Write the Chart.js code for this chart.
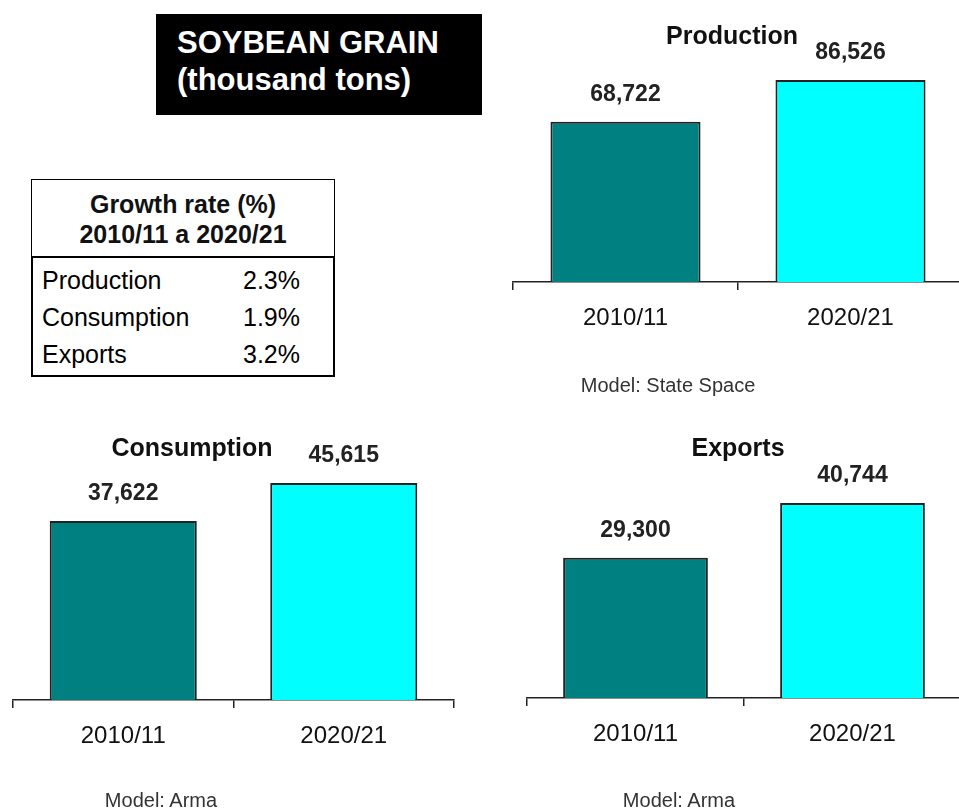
<!DOCTYPE html>
<html>
<head>
<meta charset="utf-8">
<script src="https://cdn.jsdelivr.net/npm/chart.js@4.4.1/dist/chart.umd.min.js"></script>
<style>
  html, body { margin: 0; padding: 0; background: #fff; overflow: hidden; }
  body { width: 959px; height: 809px; position: relative; font-family: "Liberation Sans", Arial, sans-serif; }
  canvas { position: absolute; }
  .abs { position: absolute; white-space: nowrap; }
  .center { transform: translate(-50%, -50%); }
  #titleBox {
    left: 156px; top: 14px; width: 305px; height: 91px; padding: 10px 0 0 21px;
    background: #000; color: #fff; font-weight: bold; font-size: 31px; line-height: 37px;
  }
  .chartTitle { font-weight: bold; font-size: 25px; color: #111; }
  .model { font-size: 20px; color: #333; }
  #growth { left: 31px; top: 179px; width: 304px; }
  #growth .head {
    border: 1px solid #000; border-bottom: 2px solid #000; height: 67px; padding-top: 9px;
    text-align: center; font-weight: bold; font-size: 25px; line-height: 30px; color: #111;
  }
  #growth .body {
    border: 2px solid #000; border-top: none; height: 113px; padding-top: 4px;
    font-size: 25px; line-height: 37px; color: #000;
  }
  #growth .row { position: relative; height: 37px; }
  #growth .row .lab { position: absolute; left: 9px; }
  #growth .row .val { position: absolute; right: 33px; }
</style>
</head>
<body>
<div id="titleBox" class="abs">SOYBEAN GRAIN<br>(thousand tons)</div>
<div id="growth" class="abs">
  <div class="head">Growth rate (%)<br>2010/11 a 2020/21</div>
  <div class="body" id="growthBody"></div>
</div>

<canvas id="prodChart" width="470" height="400" style="left:500px; top:0px;"></canvas>
<canvas id="consChart" width="470" height="409" style="left:0px; top:400px;"></canvas>
<canvas id="expChart" width="490" height="409" style="left:480px; top:400px;"></canvas>

<div class="abs center chartTitle" style="left:732px; top:35px;">Production</div>
<div class="abs center chartTitle" style="left:192px; top:447px;">Consumption</div>
<div class="abs center chartTitle" style="left:738px; top:447px;">Exports</div>

<div class="abs center model" style="left:668px; top:385px;">Model: State Space</div>
<div class="abs center model" style="left:161px; top:800px;">Model: Arma</div>
<div class="abs center model" style="left:679px; top:800px;">Model: Arma</div>

<script>
// data
const categories = ['2010/11', '2020/21'];
const production = [68722, 86526];
const consumption = [37622, 45615];
const exportsData = [29300, 40744];
const growthItems = ['Production', 'Consumption', 'Exports'];
const growthRates = [2.3, 1.9, 3.2];

const barColors = ['#008080', '#00FFFF'];
const fontFamily = '"Liberation Sans", Arial, sans-serif';

// growth rate table
const growthBody = document.getElementById('growthBody');
growthItems.forEach((item, i) => {
  const row = document.createElement('div');
  row.className = 'row';
  row.innerHTML = '<span class="lab">' + item + '</span><span class="val">' + growthRates[i].toFixed(1) + '%</span>';
  growthBody.appendChild(row);
});

// value labels above the bars
const valueLabels = {
  id: 'valueLabels',
  afterDatasetsDraw(chart) {
    const ctx = chart.ctx;
    const meta = chart.getDatasetMeta(0);
    ctx.save();
    ctx.font = 'bold 23px ' + fontFamily;
    ctx.fillStyle = '#222';
    ctx.textAlign = 'center';
    ctx.textBaseline = 'middle';
    meta.data.forEach((bar, i) => {
      const v = chart.data.datasets[0].data[i];
      ctx.fillText(v.toLocaleString('en-US'), bar.x, bar.y - 27);
    });
    ctx.restore();
  }
};

function makeChart(id, values, pad, yMax) {
  return new Chart(document.getElementById(id), {
    type: 'bar',
    data: {
      labels: categories,
      datasets: [{
        data: values,
        backgroundColor: barColors,
        borderColor: '#222',
        borderWidth: 2,
        barPercentage: 0.667,
        categoryPercentage: 1
      }]
    },
    options: {
      responsive: false,
      animation: false,
      layout: { padding: pad },
      plugins: { legend: { display: false }, tooltip: { enabled: false } },
      scales: {
        y: { display: false, min: 0, max: yMax },
        x: {
          grid: { drawOnChartArea: false, drawTicks: true, tickLength: 8, color: '#222', lineWidth: 1.5, offset: true },
          border: { display: true, color: '#222', width: 1.5 },
          ticks: { font: { size: 24, family: fontFamily }, color: '#111', padding: 14 },
          afterFit: s => { s.height = 60; }
        }
      }
    },
    plugins: [valueLabels]
  });
}

makeChart('prodChart', production, { left: 13, right: 7, top: 2, bottom: 58 }, 120000);
makeChart('consChart', consumption, { left: 13, right: 16, top: 14.5, bottom: 49 }, 60000);
makeChart('expChart', exportsData, { left: 47, right: 9, top: 11, bottom: 51 }, 60000);
</script>
</body>
</html>
